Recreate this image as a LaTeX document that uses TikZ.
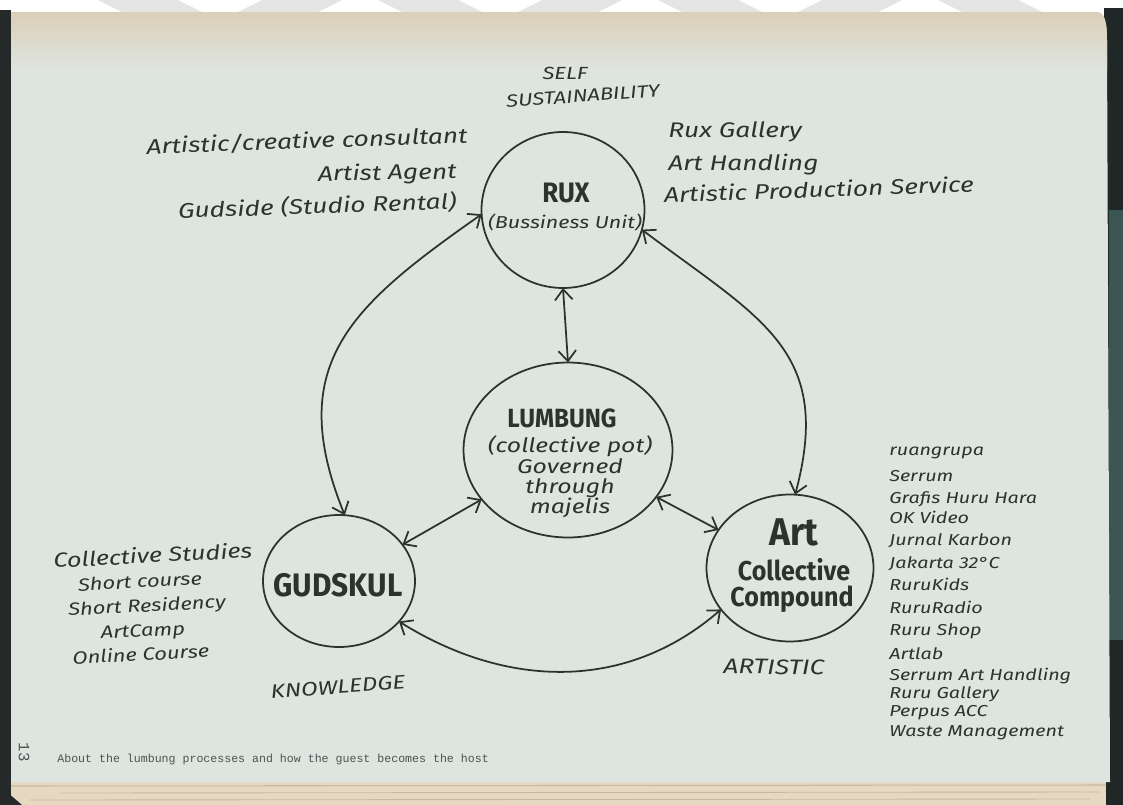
\documentclass[tikz,border=0pt]{standalone}
\usepackage{fontspec}
\usetikzlibrary{shapes.geometric,arrows.meta}
\newfontfamily\handfont{Fira Sans}[FakeStretch=1.25]
\newfontfamily\titlefont{Fira Sans}[FakeStretch=0.92]
\newfontfamily\typefont{Liberation Mono}
\definecolor{ink}{HTML}{2A332E}
\definecolor{paper}{HTML}{DEE4DF}
\definecolor{papertop}{HTML}{DBCFB9}
\definecolor{spine}{HTML}{26292A}
\definecolor{rightdark}{HTML}{1F2826}
\definecolor{rightteal}{HTML}{3A5553}
\definecolor{edge}{HTML}{E6D9C2}
\definecolor{edgeline}{HTML}{C9B89C}
\definecolor{headmark}{HTML}{E4E4E4}
\definecolor{printgray}{HTML}{4E5351}

\begin{document}
\begin{tikzpicture}[x=0.02cm,y=0.02cm,
  >={Straight Barb[length=6pt,width=10pt]},
  hub/.style={ellipse,draw=ink,line width=1pt,inner sep=0pt,outer sep=0pt},
  link/.style={draw=ink,line width=1pt,<->},
  tag/.style={text=ink,inner sep=0pt,font=\handfont\itshape\fontsize{12}{14}\selectfont},
  listitem/.style={tag,anchor=mid west,font=\handfont\itshape\fontsize{9}{11}\selectfont},
  studyitem/.style={tag,anchor=mid,rotate=3,font=\handfont\itshape\fontsize{10}{12}\selectfont},
  hubname/.style={text=ink,inner sep=0pt,align=center,font=\titlefont\bfseries\fontsize{16}{18}\selectfont},
]
\useasboundingbox (0,0) rectangle (1123,-805);

% ---- book page and its surroundings ----
\fill[white] (0,0) rectangle (1123,-805);
\foreach \c/\d in {150/1,290/-1,430/1,570/-1,710/1,850/-1,990/1}
  \fill[headmark] (\c-40-12*\d,0) -- (\c+40-12*\d,0) -- (\c+40+12*\d,-12) -- (\c-40+12*\d,-12) -- cycle;
\fill[spine] (0,-10) rectangle (11,-805);
\fill[rightdark] (1104,-8) rectangle (1123,-805);
\fill[rightteal] (1109,-210) rectangle (1123,-640);
\fill[paper] (11,-12) -- (1096,-12) .. controls (1105,-12) and (1107,-22) .. (1107,-42) -- (1110,-782) -- (11,-782) -- cycle;
\shade[top color=papertop,bottom color=paper] (11,-12) -- (1096,-12) .. controls (1105,-12) and (1107,-22) .. (1107,-42) -- (1107,-70) -- (11,-70) -- cycle;
\fill[edge] (11,-782) rectangle (1106,-805);
\draw[edgeline,line width=0.6pt] (11,-786) -- (1106,-785);
\draw[edgeline,line width=0.5pt] (60,-793) -- (1100,-792);
\draw[edgeline,line width=0.5pt] (30,-800) -- (1090,-799);
\fill[spine] (0,-786) -- (22,-805) -- (0,-805) -- cycle;

% ---- the four units ----
\node[hub,minimum width=3.26cm,minimum height=3.12cm] (rux) at (563,-210) {};
\node[hub,minimum width=4.18cm,minimum height=3.5cm] (lumbung) at (568,-450) {};
\node[hub,minimum width=3.04cm,minimum height=2.64cm] (gudskul) at (339,-581) {};
\node[hub,minimum width=3.34cm,minimum height=2.94cm] (acc) at (790,-568) {};

\node[hubname] (ruxtitle) at (566,-193) {RUX};
\node[tag,font=\handfont\itshape\fontsize{9.8}{11}\selectfont] (ruxsub) at (565,-222) {(Bussiness Unit)};

\node[hubname,font=\titlefont\bfseries\fontsize{15}{17}\selectfont] (lumbungtitle) at (562,-418) {LUMBUNG};
\node[tag,align=center,font=\handfont\itshape\fontsize{11.3}{11.5}\selectfont] (lumbungtext) at (570,-477) {(collective pot)\\Governed\\through\\majelis};

\node[hubname,font=\titlefont\bfseries\fontsize{18.5}{20}\selectfont] (gudskultitle) at (338,-585) {GUDSKUL};

\node[hubname,anchor=base,font=\titlefont\bfseries\fontsize{22}{24}\selectfont] (acctitle) at (794,-545) {Art};
\node[hubname,anchor=base,font=\titlefont\bfseries\fontsize{15.5}{17}\selectfont] (acccollective) at (794,-580) {Collective};
\node[hubname,anchor=base,font=\titlefont\bfseries\fontsize{15.5}{17}\selectfont] (acccompound) at (792,-606) {Compound};

% ---- connections ----
\draw[link] (rux.south) -- (lumbung.north);
\draw[link] (rux.183) to[out=215,in=112,looseness=1.25] (gudskul.85);
\draw[link] (rux.-14) to[out=-37,in=75,looseness=1.25] (acc.86);
\draw[link] (lumbung) -- (gudskul);
\draw[link] (lumbung) -- (acc);
\draw[link] (gudskul.-34) to[out=-32,in=221] (acc.211);

% ---- headings ----
\node[tag,font=\handfont\itshape\fontsize{10}{12}\selectfont] (self) at (565,-73) {SELF};
\node[tag,rotate=4,font=\handfont\itshape\fontsize{10}{12}\selectfont] (sustain) at (583,-96) {SUSTAINABILITY};
\node[tag,rotate=4,font=\handfont\itshape\fontsize{11}{13}\selectfont] (knowledge) at (338,-687) {KNOWLEDGE};
\node[tag,rotate=-1] (artistic) at (774,-667) {ARTISTIC};

% ---- RUX activities ----
\node[tag,anchor=mid east,rotate=2] (consult) at (468,-139) {Artistic/creative consultant};
\node[tag,anchor=mid east,rotate=1] (agent) at (457,-175) {Artist Agent};
\node[tag,anchor=mid east,rotate=2] (gudside) at (457,-205) {Gudside (Studio Rental)};
\node[tag,anchor=mid west] (gallery) at (668,-134) {Rux Gallery};
\node[tag,anchor=mid west] (handling) at (668,-167) {Art Handling};
\node[tag,anchor=mid west,rotate=2] (production) at (664,-199) {Artistic Production Service};

% ---- GUDSKUL activities ----
\node[studyitem,font=\handfont\itshape\fontsize{11.5}{13}\selectfont] (studies) at (153,-559) {Collective Studies};
\node[studyitem] (shortcourse) at (140,-584) {Short course};
\node[studyitem] (residency) at (147,-608) {Short Residency};
\node[studyitem] (artcamp) at (143,-633) {ArtCamp};
\node[studyitem] (online) at (141,-657) {Online Course};

% ---- collectives in the compound ----
\foreach \n/\y/\t in {
  c1/452/ruangrupa, c2/478/Serrum, c3/500/Grafis Huru Hara, c4/520/OK Video,
  c5/542/Jurnal Karbon, c6/565/Jakarta 32°C, c7/587/RuruKids, c8/610/RuruRadio,
  c9/632/Ruru Shop, c10/656/Artlab, c11/677/Serrum Art Handling,
  c12/695/Ruru Gallery, c13/713/Perpus ACC, c14/733/Waste Management}
  \node[listitem] (\n) at (889,-\y) {\t};

% ---- page footer ----
\node[rotate=-90,text=printgray,inner sep=0pt,font=\typefont\fontsize{9}{10}\selectfont] (pageno) at (24,-752) {13};
\node[anchor=mid west,text=printgray,inner sep=0pt,font=\typefont\fontsize{6.6}{8}\selectfont] (caption) at (57,-759) {About the lumbung processes and how the guest becomes the host};
\end{tikzpicture}
\end{document}
